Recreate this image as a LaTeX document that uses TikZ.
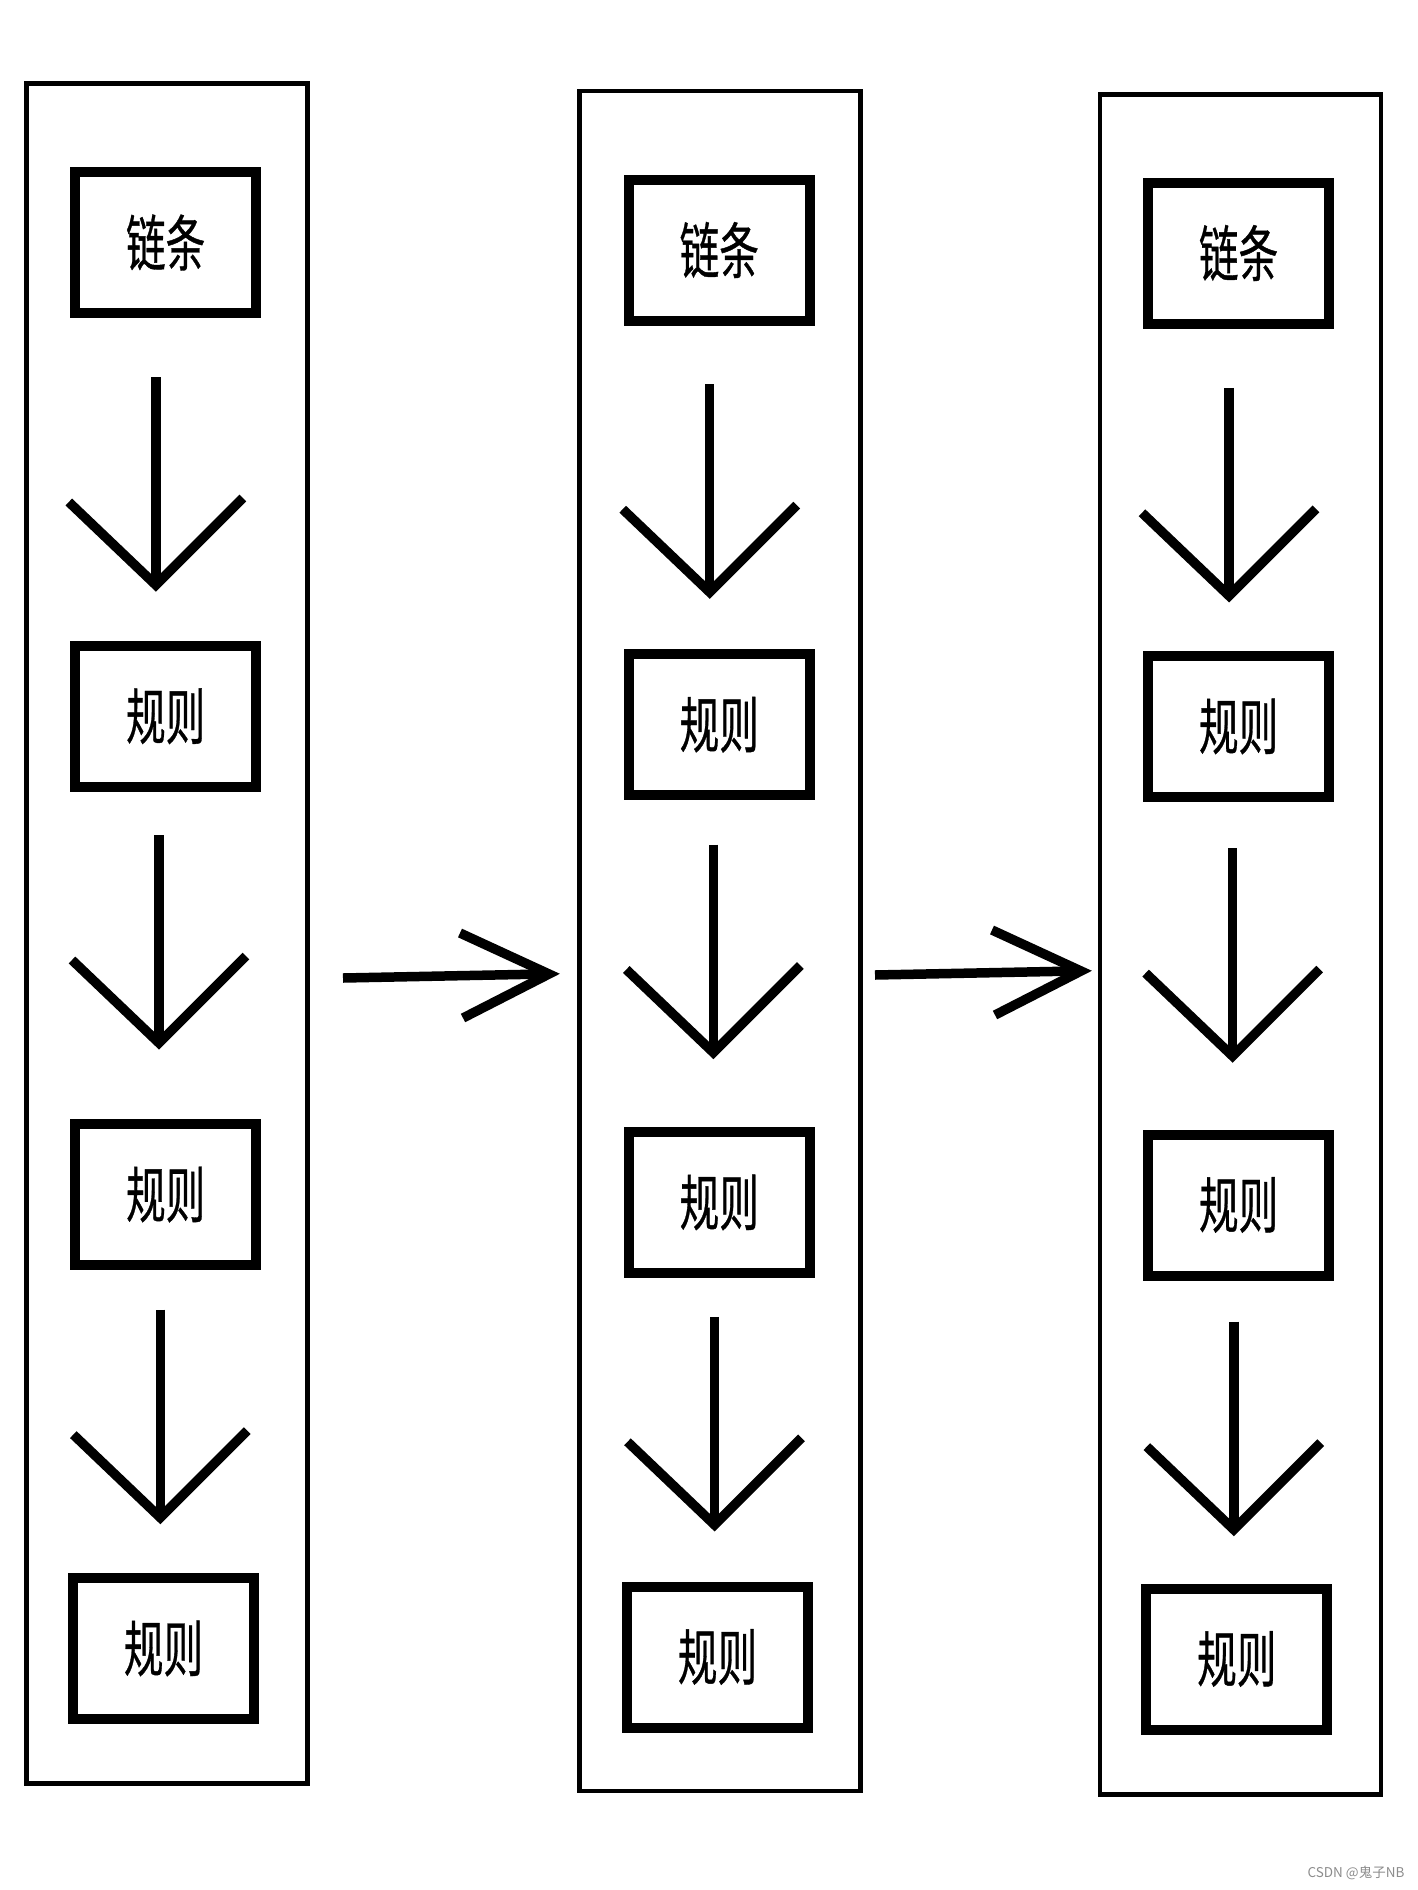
\documentclass[tikz,border=0pt]{standalone}
\usepackage{fontspec}
\newfontfamily\cjk[FakeBold=0.7]{Noto Sans CJK SC}
\newfontfamily\cjkwm{Noto Sans CJK SC}
\begin{document}
\begin{tikzpicture}[x=1pt,y=-1pt,
  colbox/.style={draw=black,line width=4.5pt,rectangle,inner sep=0pt,minimum width=281pt,minimum height=1700pt},
  itembox/.style={draw=black,line width=10pt,rectangle,inner sep=0pt,minimum width=181pt,minimum height=141pt,
    font=\cjk\fontsize{61}{70}\selectfont},
  arrowline/.style={draw=black,line width=9.5pt,line join=miter},
  darr/.pic={
    \draw[arrowline] (0,-208) -- (0,-4);
    \draw[arrowline] (-87,-83) -- (0,0) -- (87,-87);
  },
  harr/.pic={
    \draw[arrowline] (-206,4) -- (-4,0);
    \draw[arrowline] (-89,-41) -- (0,0) -- (-86,44);
  },
  wm/.style={text=black!45,font=\cjkwm\fontsize{13.5}{16}\selectfont,inner sep=0pt}
]
\useasboundingbox (0,0) rectangle (1417,1890);
\newcommand\cjkw[1]{\scalebox{0.65}[1]{#1}}

% column boxes
\node[colbox] (col1) at (166.8,933.3) {};
\node[colbox] (col2) at (720,941.2) {};
\node[colbox] (col3) at (1240.5,944.5) {};

% column 1
\node[itembox] (a1) at (165.7,242.5) {\cjkw{链条}};
\node[itembox] (a2) at (165.7,716.3) {\cjkw{规则}};
\node[itembox] (a3) at (165.7,1194.6) {\cjkw{规则}};
\node[itembox] (a4) at (163.5,1648.5) {\cjkw{规则}};
% column 2
\node[itembox] (b1) at (719.3,250) {\cjkw{链条}};
\node[itembox] (b2) at (719.3,724.7) {\cjkw{规则}};
\node[itembox] (b3) at (719.3,1202.5) {\cjkw{规则}};
\node[itembox] (b4) at (717.5,1657) {\cjkw{规则}};
% column 3
\node[itembox] (c1) at (1238.6,253) {\cjkw{链条}};
\node[itembox] (c2) at (1238.6,726.5) {\cjkw{规则}};
\node[itembox] (c3) at (1238.6,1205) {\cjkw{规则}};
\node[itembox] (c4) at (1236.8,1659) {\cjkw{规则}};

% arrow tips
\coordinate (ta1) at (155.8,585);
\coordinate (ta2) at (159,1043);
\coordinate (ta3) at (160.3,1517.6);
\coordinate (tb1) at (709.7,592.2);
\coordinate (tb2) at (713.3,1052.5);
\coordinate (tb3) at (714.5,1524.8);
\coordinate (tc1) at (1229,595.8);
\coordinate (tc2) at (1232.6,1056.1);
\coordinate (tc3) at (1233.8,1529.6);
\coordinate (th1) at (549,974);
\coordinate (th2) at (1081,971);

\foreach \t in {ta1,ta2,ta3,tb1,tb2,tb3,tc1,tc2,tc3}
  \pic at (\t) {darr};
\pic at (th1) {harr};
\pic at (th2) {harr};

% watermark
\node[wm] (wmark) at (1356,1873) {CSDN @鬼子NB};
\end{tikzpicture}
\end{document}
